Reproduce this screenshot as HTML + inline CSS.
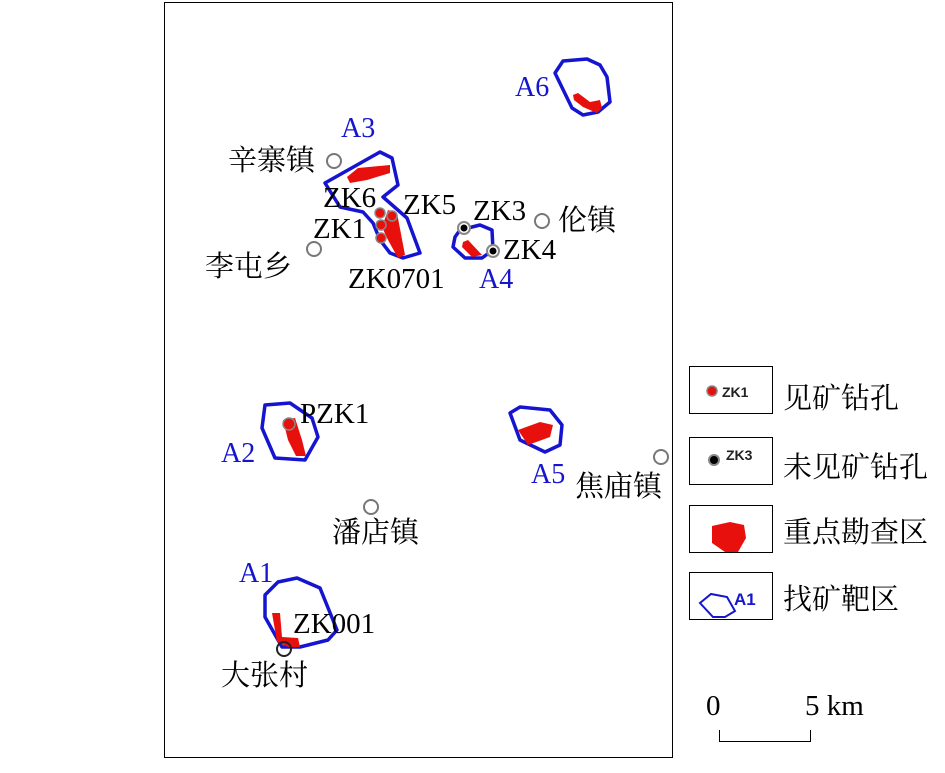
<!DOCTYPE html>
<html><head><meta charset="utf-8"><style>
html,body{margin:0;padding:0;background:#fff;}
svg text{font-family:"Liberation Serif","Noto Serif CJK SC",serif;}
svg text.s{font-family:"Liberation Sans",sans-serif;font-weight:bold;}
</style></head><body>
<svg width="945" height="768" viewBox="0 0 945 768" xmlns="http://www.w3.org/2000/svg">
<rect x="164.5" y="2.5" width="508" height="755" fill="#fff" stroke="#000" stroke-width="1"/>
<g fill="none" stroke="#1515d0" stroke-width="3.5" stroke-linejoin="round">
<polygon points="325,183 380,152 392,158 398,185 383,197 407,218 420,253 403,258 390,253 380,240 373,223 363,212 340,207"/>
<polygon points="455,237 460,230 480,225 492,230 493,250 482,258 465,258 453,247"/>
<polygon points="555,73 563,61 587,59 600,65 607,77 610,102 598,112 583,115 572,108"/>
<polygon points="265,405 290,403 312,418 318,437 305,460 275,458 262,428"/>
<polygon points="510,413 520,407 550,410 562,425 560,445 545,452 520,440"/>
<polygon points="265,595 278,582 297,578 320,588 337,630 328,640 300,647 282,647 265,617"/>
</g>
<g fill="#e8100c">
<polygon points="347,177 358,168 390,165 390,173 367,180 350,183"/>
<polygon points="388,210 397,213 405,255 398,258 388,240 382,227"/>
<polygon points="463,242 468,240 482,255 472,257 462,247"/>
<polygon points="573,95 578,93 590,102 600,100 602,108 597,113 583,107 574,100"/>
<polygon points="283,420 295,418 302,440 306,456 296,456 288,440"/>
<polygon points="518,430 540,422 553,425 550,437 528,445"/>
<polygon points="272,613 280,613 282,637 298,638 300,647 288,647 277,642"/>
</g>
<g fill="#e8100c" stroke="#888" stroke-width="1.5">
<circle cx="380" cy="213" r="5"/><circle cx="392" cy="216" r="5"/><circle cx="381" cy="225" r="5"/><circle cx="381" cy="238" r="5"/>
<circle cx="289" cy="424" r="6"/>
</g>
<g stroke="#888" stroke-width="2" fill="#fff">
<circle cx="464" cy="228" r="6"/><circle cx="493" cy="251" r="6"/>
</g>
<circle cx="464" cy="228" r="3.5" fill="#000"/><circle cx="493" cy="251" r="3.5" fill="#000"/>
<g fill="#fff" stroke="#777" stroke-width="2">
<circle cx="334" cy="161" r="7"/><circle cx="314" cy="249" r="7"/><circle cx="542" cy="221" r="7"/><circle cx="661" cy="457" r="7"/><circle cx="371" cy="507" r="7"/>
</g>
<circle cx="284" cy="649" r="7" fill="none" stroke="#222" stroke-width="2"/>
<g font-size="28" fill="#1515d0">
<text x="341" y="137">A3</text><text x="515" y="96">A6</text><text x="479" y="288">A4</text><text x="221" y="462">A2</text><text x="531" y="483">A5</text><text x="239" y="582">A1</text>
</g>
<g font-size="29" fill="#000">
<text x="228" y="170">辛寨镇</text><text x="323" y="207">ZK6</text><text x="403" y="214">ZK5</text><text x="313" y="238">ZK1</text>
<text x="473" y="220">ZK3</text><text x="558" y="230">伦镇</text><text x="503" y="259">ZK4</text><text x="205" y="276">李屯乡</text><text x="348" y="288">ZK0701</text>
<text x="300" y="423">PZK1</text><text x="575" y="496">焦庙镇</text><text x="332" y="542">潘店镇</text><text x="293" y="633">ZK001</text><text x="221" y="685">大张村</text>
<text x="783" y="408">见矿钻孔</text><text x="783" y="477">未见矿钻孔</text><text x="783" y="542">重点勘查区</text><text x="783" y="609">找矿靶区</text>
<text x="706" y="715">0</text><text x="805" y="715">5 km</text>
</g>
<g fill="#fff" stroke="#000" stroke-width="1">
<rect x="689.5" y="366.5" width="83" height="47"/><rect x="689.5" y="437.5" width="83" height="47"/><rect x="689.5" y="505.5" width="83" height="47"/><rect x="689.5" y="572.5" width="83" height="47"/>
</g>
<circle cx="712" cy="391" r="5" fill="#e8100c" stroke="#888" stroke-width="1.5"/>
<text class="s" x="722" y="397" font-size="14" fill="#222">ZK1</text>
<circle cx="714" cy="460" r="5" fill="#000" stroke="#888" stroke-width="2"/>
<text class="s" x="726" y="460" font-size="14" fill="#222">ZK3</text>
<polygon points="712,526 730,522 744,525 746,538 738,552 725,552 712,543" fill="#e8100c"/>
<polygon points="700,603 711,594 727,597 735,611 725,617 713,617" fill="none" stroke="#1515d0" stroke-width="2"/>
<text class="s" x="734" y="605" font-size="17" fill="#1515d0">A1</text>
<path d="M719.5,730 V741.5 H810.5 V730" fill="none" stroke="#000" stroke-width="1"/>
</svg>
</body></html>
